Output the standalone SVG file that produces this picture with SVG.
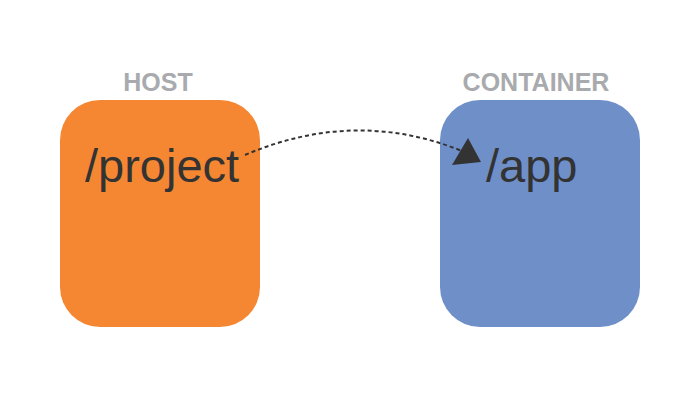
<svg xmlns="http://www.w3.org/2000/svg" width="700" height="400" viewBox="0 0 700 400">
<style>
.lbl{font-family:"Liberation Sans",Arial,sans-serif;font-weight:bold;font-size:25px;fill:#a9aaad;text-anchor:middle}
.path{font-family:"Liberation Sans",Arial,sans-serif;font-size:47px;fill:#333333}
.conn{fill:none;stroke:#333333;stroke-width:2;stroke-dasharray:4,3}
</style>
<rect width="700" height="400" fill="#ffffff"/>
<g id="host">
<text class="lbl" x="158" y="91">HOST</text>
<rect x="60" y="100" width="200" height="227" rx="40" ry="40" fill="#f58733"/>
<text class="path" x="85" y="182">/project</text>
</g>
<g id="container">
<text class="lbl" x="536" y="91">CONTAINER</text>
<rect x="440" y="100" width="200" height="227" rx="40" ry="40" fill="#6f8fc9"/>
<text class="path" x="486" y="182">/app</text>
</g>
<g id="connectors">
<path class="conn" d="M245,155 Q355,108 462,151"/>
<polygon points="468,138 452,165 481,162" fill="#333333"/>
</g>
</svg>
